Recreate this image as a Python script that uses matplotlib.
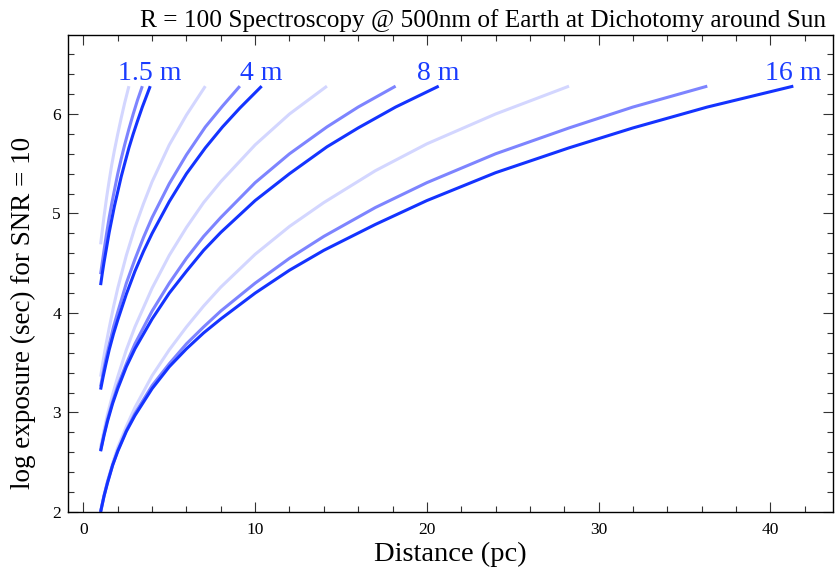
import numpy as np
import matplotlib
matplotlib.use("Agg")
import matplotlib.pyplot as plt
from matplotlib.ticker import MultipleLocator

plt.rcParams['font.family'] = ['Liberation Serif', 'DejaVu Serif']

# distance grids (pc) per aperture; each curve uses the first len(y) points
d_15 = [1, 1.1, 1.2, 1.35, 1.5, 1.65, 1.8, 2, 2.2, 2.4, 2.65, 2.9, 3.15, 3.43, 3.65, 3.89]
d_4 = [1, 1.15, 1.3, 1.5, 1.75, 2, 2.5, 3, 3.5, 4, 5, 6, 7.1, 8.1, 9.11, 10.38]
d_8 = [1, 1.2, 1.4, 1.7, 2, 2.5, 3, 4, 5, 6, 7, 8, 10, 12, 14.18, 16, 18.18, 20.69]
d_16 = [1, 1.2, 1.4, 1.7, 2, 2.5, 3, 4, 5, 6, 7, 8, 10, 12, 14, 17, 20, 24, 28.28,
        32, 36.33, 41.34]

# log exposure (sec), light / medium / dark curves
y_15_light = [4.69, 4.83, 4.97, 5.16, 5.33, 5.49, 5.63, 5.80, 5.96, 6.11, 6.28]
y_15_med = [4.39, 4.51, 4.63, 4.80, 4.96, 5.10, 5.23, 5.40, 5.55, 5.69, 5.85, 6.00, 6.14, 6.28]
y_15_dark = [4.28, 4.40, 4.51, 4.66, 4.81, 4.94, 5.07, 5.22, 5.37, 5.50, 5.66, 5.80, 5.93,
             6.07, 6.17, 6.28]

y_4_light = [3.36, 3.52, 3.67, 3.85, 4.06, 4.25, 4.58, 4.86, 5.10, 5.32, 5.69, 5.99, 6.28]
y_4_med = [3.26, 3.40, 3.53, 3.68, 3.86, 4.01, 4.30, 4.54, 4.76, 4.96, 5.30, 5.59, 5.87,
           6.08, 6.28]
y_4_dark = [3.23, 3.36, 3.48, 3.63, 3.79, 3.93, 4.19, 4.42, 4.62, 4.80, 5.12, 5.40, 5.66,
            5.87, 6.06, 6.28]

y_8_light = [2.65, 2.82, 2.98, 3.18, 3.36, 3.63, 3.86, 4.25, 4.58, 4.86, 5.11, 5.32, 5.69,
             6.00, 6.28]
y_8_med = [2.62, 2.78, 2.93, 3.11, 3.27, 3.49, 3.69, 4.02, 4.30, 4.55, 4.77, 4.96, 5.31,
           5.60, 5.87, 6.07, 6.28]
y_8_dark = [2.61, 2.77, 2.91, 3.09, 3.24, 3.46, 3.64, 3.94, 4.20, 4.42, 4.63, 4.81, 5.13,
            5.40, 5.67, 5.86, 6.07, 6.28]

y_16_light = [2.01, 2.17, 2.31, 2.49, 2.65, 2.86, 3.05, 3.37, 3.63, 3.86, 4.07, 4.26, 4.59,
              4.87, 5.11, 5.43, 5.70, 6.00, 6.28]
y_16_med = [2.00, 2.16, 2.30, 2.47, 2.62, 2.82, 2.99, 3.27, 3.49, 3.69, 3.86, 4.02, 4.30,
            4.55, 4.77, 5.06, 5.31, 5.60, 5.86, 6.07, 6.28]
y_16_dark = [2.00, 2.16, 2.29, 2.47, 2.61, 2.81, 2.97, 3.24, 3.46, 3.64, 3.80, 3.94, 4.20,
             4.43, 4.63, 4.89, 5.13, 5.41, 5.66, 5.86, 6.07, 6.28]

labels = ['1.5 m', '4 m', '8 m', '16 m']

groups = [
    (d_15, [y_15_light, y_15_med, y_15_dark]),
    (d_4, [y_4_light, y_4_med, y_4_dark]),
    (d_8, [y_8_light, y_8_med, y_8_dark]),
    (d_16, [y_16_light, y_16_med, y_16_dark]),
]

shades = ['#d3d6ff', '#7d84ff', '#1433ff']
text_blue = '#1a3cff'

fig = plt.figure(figsize=(8.35, 5.73), dpi=100)
ax = fig.add_axes([0.0814, 0.1065, 0.9162, 0.8324])

for d, ys in groups:
	for y, c in zip(ys, shades):
		ax.plot(d[:len(y)], y, color=c, linewidth=2.2, solid_capstyle='butt', zorder=2)

# aperture labels sit above the end of the darkest curve
for (d, ys), lab in zip(groups, labels):
	ax.text(d[len(ys[2]) - 1], 6.34, lab, color=text_blue, fontsize=20,
	        ha='center', va='baseline')

ax.set_xlim(-0.9, 43.65)
ax.set_ylim(2, 6.794)
ax.xaxis.set_major_locator(MultipleLocator(10))
ax.xaxis.set_minor_locator(MultipleLocator(2))
ax.yaxis.set_major_locator(MultipleLocator(1))
ax.yaxis.set_minor_locator(MultipleLocator(0.2))
ax.tick_params(which='both', direction='in', top=True, right=True, color='#333333',
               labelsize=12.5, width=0.8)
ax.tick_params(which='major', length=7)
ax.tick_params(which='minor', length=4)
ax.tick_params(axis='x', pad=7)
ax.tick_params(axis='y', pad=5)
for s in ax.spines.values():
	s.set_linewidth(1.0)

ax.set_xlabel('Distance (pc)', fontsize=20.5, labelpad=3)
ax.set_ylabel('log exposure (sec) for SNR = 10', fontsize=19.5)
ax.yaxis.set_label_coords(-0.042, 0.418)
fig.text(0.578, 0.953, 'R = 100 Spectroscopy @ 500nm of Earth at Dichotomy around Sun',
         fontsize=18.2, ha='center', va='baseline')

fig.savefig('out.png', dpi=100)
